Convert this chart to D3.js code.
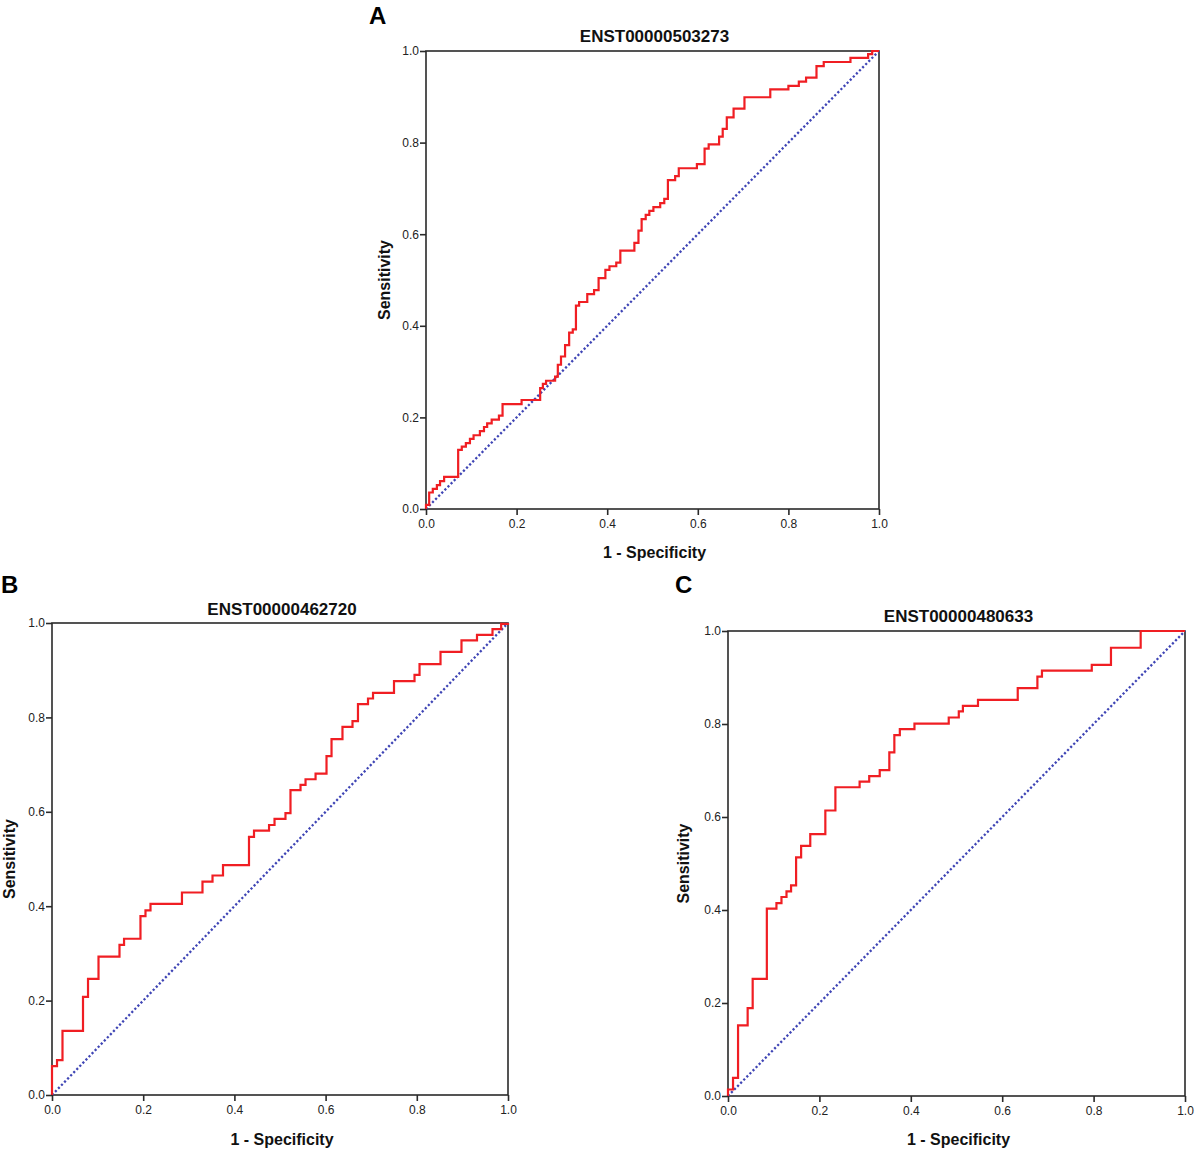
<!DOCTYPE html>
<html>
<head>
<meta charset="utf-8">
<script src="https://cdn.jsdelivr.net/npm/d3@7"></script>
<style>
  body { margin: 0; background: #fff; }
  text { font-family: "Liberation Sans", Arial, sans-serif; }
</style>
</head>
<body>
<div id="chart"></div>
<script>
// ROC curves (1 - specificity, sensitivity)
const letters = ['A', 'B', 'C']
const titles = ['ENST00000503273', 'ENST00000462720', 'ENST00000480633']
const ticks = [0, 0.2, 0.4, 0.6, 0.8, 1.0]

const fprA = [0, 0, .007, .015, .024, .031, .040, .071, .079, .088, .097, .105, .119, .128, .135, .145, .161, .169, .211,
  .252, .258, .265, .285, .291, .298, .307, .316, .324, .331, .338, .356, .371, .381, .396, .405, .420, .429, .460, .469,
  .476, .485, .493, .502, .517, .526, .534, .550, .558, .598, .615, .624, .647, .655, .664, .679, .703, .760, .800, .823,
  .839, .862, .878, .937, .976, .985, 1]
const tprA = [0, .009, .036, .044, .052, .061, .070, .129, .136, .144, .153, .161, .170, .179, .187, .195, .204, .229, .238,
  .264, .273, .280, .289, .315, .333, .358, .385, .392, .444, .452, .469, .478, .504, .522, .530, .538, .564, .581, .608,
  .633, .642, .651, .659, .668, .677, .718, .727, .744, .753, .787, .796, .813, .830, .855, .874, .899, .916, .924, .933,
  .942, .967, .976, .985, .993, 1, 1]

const fprB = [0, 0, .011, .023, .068, .079, .102, .148, .158, .194, .205, .216, .285, .330, .352, .375, .432, .443, .476,
  .488, .512, .523, .545, .556, .578, .602, .613, .637, .659, .671, .693, .704, .750, .795, .806, .852, .898, .932, .966,
  .985, 1]
const tprB = [0, .061, .074, .136, .208, .246, .293, .318, .331, .379, .391, .405, .429, .452, .465, .487, .547, .560, .572,
  .585, .597, .646, .657, .669, .681, .718, .754, .780, .792, .828, .840, .852, .877, .890, .913, .939, .963, .975, .987,
  .998, 1]

const fprC = [0, 0, .011, .022, .043, .054, .085, .106, .117, .128, .138, .149, .160, .180, .213, .235, .288, .309, .332,
  .353, .364, .376, .408, .483, .505, .514, .547, .634, .677, .687, .796, .838, .903, 1]
const tprC = [0, .014, .039, .152, .189, .252, .403, .415, .428, .440, .453, .513, .538, .563, .614, .664, .676, .688, .701,
  .739, .776, .789, .801, .814, .827, .839, .852, .877, .902, .915, .927, .964, 1, 1]

const series = [[fprA, tprA], [fprB, tprB], [fprC, tprC]]

// panel layout in page pixels
const panels = [
  { left: 426, right: 879, top: 51, bottom: 509, letterX: 369, letterY: 24, titleY: 42, xLabelY: 558, yLabelX: 390 },
  { left: 52, right: 508, top: 623, bottom: 1095, letterX: 1, letterY: 593, titleY: 615, xLabelY: 1145, yLabelX: 15 },
  { left: 728, right: 1185, top: 631, bottom: 1096, letterX: 675, letterY: 593, titleY: 622, xLabelY: 1145, yLabelX: 689 }
]

const width = 1202
const height = 1149

var svg = d3.select('#chart')
  .append('svg')
  .attr('width', width)
  .attr('height', height)

panels.forEach((p, k) => {
  const [fpr, tpr] = series[k]

  var x = d3.scaleLinear().domain([0, 1]).range([p.left, p.right])
  var y = d3.scaleLinear().domain([0, 1]).range([p.bottom, p.top])

  var g = svg.append('g')

  // Frame
  g.append('rect')
    .attr('x', x(0))
    .attr('y', y(1))
    .attr('width', x(1) - x(0))
    .attr('height', y(0) - y(1))
    .attr('fill', 'none')
    .attr('stroke', '#2a2a2a')
    .attr('stroke-width', 1.6)

  // Reference diagonal
  g.append('line')
    .attr('x1', x(0)).attr('y1', y(0))
    .attr('x2', x(1)).attr('y2', y(1))
    .attr('stroke', '#3f45b5')
    .attr('stroke-width', 2.3)
    .attr('stroke-dasharray', '2.2,2.2')

  // ROC curve
  const pts = fpr.map((d, i) => [d, tpr[i]])
  g.append('path')
    .datum(pts)
    .attr('fill', 'none')
    .attr('stroke', '#f01e23')
    .attr('stroke-width', 2.2)
    .attr('d', d3.line()
      .x(d => x(d[0]))
      .y(d => y(d[1]))
      .curve(d3.curveStepAfter))

  // Axes
  const fmt = d3.format('.1f')
  g.append('g')
    .attr('transform', `translate(0,${y(0)})`)
    .call(d3.axisBottom(x).tickValues(ticks).tickFormat(fmt).tickSizeOuter(0).tickSize(6).tickPadding(4))
    .call(g => g.select('.domain').remove())
    .call(g => g.selectAll('line').attr('stroke', '#2a2a2a').attr('stroke-width', 1.6))
    .call(g => g.selectAll('text').attr('font-size', 12).attr('fill', '#222')
      .style('font-family', '"Liberation Sans", Arial, sans-serif'))

  g.append('g')
    .attr('transform', `translate(${x(0)},0)`)
    .call(d3.axisLeft(y).tickValues(ticks).tickFormat(fmt).tickSizeOuter(0).tickSize(6).tickPadding(1))
    .call(g => g.select('.domain').remove())
    .call(g => g.selectAll('line').attr('stroke', '#2a2a2a').attr('stroke-width', 1.6))
    .call(g => g.selectAll('text').attr('font-size', 12).attr('fill', '#222')
      .style('font-family', '"Liberation Sans", Arial, sans-serif'))

  // Titles and labels
  g.append('text')
    .attr('x', (p.left + p.right) / 2 + 2)
    .attr('y', p.titleY)
    .attr('text-anchor', 'middle')
    .attr('font-size', 17)
    .attr('font-weight', 'bold')
    .attr('fill', '#111')
    .text(titles[k])

  g.append('text')
    .attr('x', p.letterX)
    .attr('y', p.letterY)
    .attr('font-size', 24)
    .attr('font-weight', 'bold')
    .attr('fill', '#000')
    .text(letters[k])

  g.append('text')
    .attr('x', (p.left + p.right) / 2 + 2)
    .attr('y', p.xLabelY)
    .attr('text-anchor', 'middle')
    .attr('font-size', 16)
    .attr('font-weight', 'bold')
    .attr('fill', '#111')
    .text('1 - Specificity')

  g.append('text')
    .attr('transform', `translate(${p.yLabelX},${(p.top + p.bottom) / 2}) rotate(-90)`)
    .attr('text-anchor', 'middle')
    .attr('font-size', 16)
    .attr('font-weight', 'bold')
    .attr('fill', '#111')
    .text('Sensitivity')
})
</script>
</body>
</html>
